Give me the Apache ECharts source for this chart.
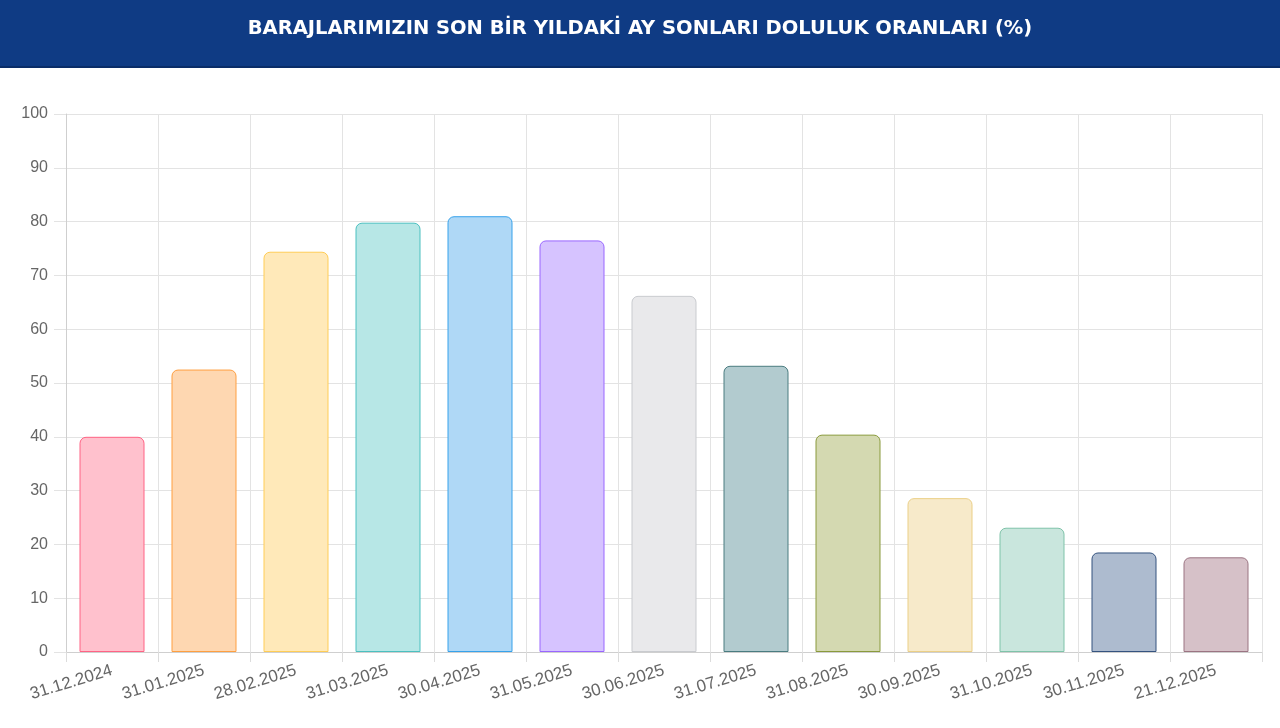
<!DOCTYPE html>
<html>
<head>
<meta charset="utf-8">
<script src="https://cdn.jsdelivr.net/npm/echarts@6/dist/echarts.min.js"></script>
<style>
html,body{margin:0;padding:0;background:#fff;}
#c{width:1280px;height:728px;}
</style>
</head>
<body>
<div id="c"></div>
<script>
const titleText = 'BARAJLARIMIZIN SON BİR YILDAKİ AY SONLARI DOLULUK ORANLARI (%)';
const categories = ['31.12.2024','31.01.2025','28.02.2025','31.03.2025','30.04.2025','31.05.2025','30.06.2025','31.07.2025','31.08.2025','30.09.2025','31.10.2025','30.11.2025','21.12.2025'];
const values = [40.0, 52.5, 74.4, 79.8, 81.0, 76.5, 66.2, 53.2, 40.4, 28.6, 23.1, 18.5, 17.6];
const yTicks = [0,10,20,30,40,50,60,70,80,90,100];

const fillColors = ['#FFC1CD','#FED7B1','#FFE9B9','#B7E7E6','#AFD8F6','#D6C3FF','#E9E9EB','#B2CBCF','#D4D9B1','#F7EACA','#C9E6DD','#ADBBCF','#D6C1C8'];
const borderColors = ['#FF6384','#FF9F40','#FFCD56','#4BC0C0','#36A2EB','#9966FF','#C9CBCF','#4A7C80','#8A9A3C','#EBCF86','#7FC3A9','#35537F','#9B7482'];

const chart = echarts.init(document.getElementById('c'), null, {renderer:'canvas'});
chart.setOption({
  animation:false,
  backgroundColor:'#fff',
  graphic:[
    {type:'rect', left:0, top:0, shape:{width:1280, height:68}, style:{fill:'#0F3B84'}, z:0},
    {type:'rect', left:0, top:66, shape:{width:1280, height:2}, style:{fill:'#0A2D68'}, z:0}
  ],
  title:{
    text:titleText, left:'center', top:14,
    textStyle:{color:'#fff', fontFamily:'DejaVu Sans', fontWeight:'bold', fontSize:19.5}
  },
  grid:{left:66, right:18, top:114, bottom:76, containLabel:false},
  xAxis:{
    type:'category', data:categories, boundaryGap:true,
    axisLine:{show:true, lineStyle:{color:'#cfcfcf', width:1}},
    axisTick:{show:true, length:10, alignWithLabel:false, lineStyle:{color:'#dcdcdc'}},
    splitLine:{show:true, lineStyle:{color:'#e3e3e3', width:1}},
    axisLabel:{rotate:17, margin:18, color:'#666', fontFamily:'Liberation Sans', fontSize:17, interval:0}
  },
  yAxis:{
    type:'value', min:0, max:100, interval:10,
    axisLine:{show:true, lineStyle:{color:'#cfcfcf', width:1}},
    axisTick:{show:true, length:12, lineStyle:{color:'#e3e3e3'}},
    splitLine:{show:true, lineStyle:{color:'#e3e3e3', width:1}},
    axisLabel:{color:'#666', fontFamily:'Liberation Sans', fontSize:16, margin:18,
      formatter:function(v){return yTicks.indexOf(v)>=0 ? String(v) : '';}}
  },
  series:[{
    type:'bar',
    barWidth:65,
    data:values.map(function(v,i){
      return {value:v, itemStyle:{color:fillColors[i], borderColor:borderColors[i], borderWidth:1, borderRadius:[6,6,0,0]}};
    })
  }]
});
</script>
</body>
</html>
